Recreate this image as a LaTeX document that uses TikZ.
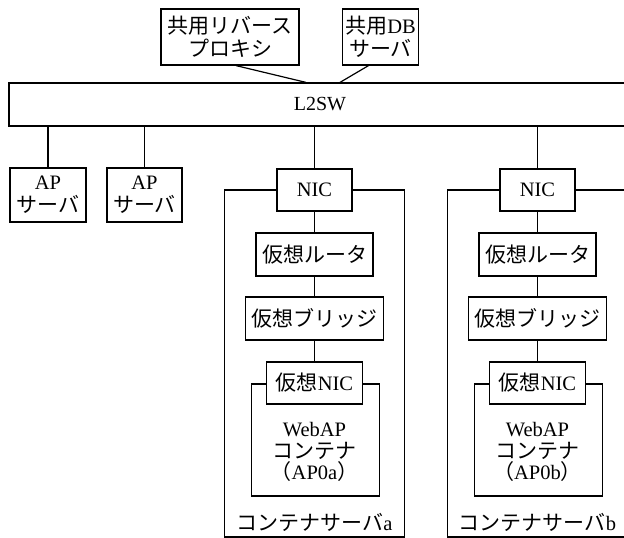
\documentclass[tikz,border=0pt]{standalone}
\usepackage{fontspec}
\setmainfont{Liberation Serif}
\newfontfamily\jpfont{Noto Sans CJK JP}
\newcommand\latn[1]{{\rmfamily\fontsize{20.5}{23}\selectfont #1}}
\tikzset{
  box/.style={draw, line width=1.2pt, fill=white, inner sep=0pt, align=center,
    font=\jpfont\fontsize{21}{23}\selectfont},
  frame/.style={draw, line width=1.2pt, inner sep=0pt},
  wire/.style={line width=1.2pt},
  txt/.style={inner sep=0pt, align=center, font=\jpfont\fontsize{21}{21.5}\selectfont}
}
\begin{document}
\begin{tikzpicture}[x=1pt,y=-1pt]
\useasboundingbox (0,0) rectangle (624,538);
\clip (0,0) rectangle (624,538);
\fill[white] (0,0) rectangle (624,538);
% top servers and switch
\node[box, minimum width=138pt, minimum height=56pt] (proxy) at (230,37) {共用リバース\\プロキシ};
\node[box, minimum width=76pt, minimum height=56pt] (db) at (380.5,37) {共用\latn{DB}\\サーバ};
\node[box, minimum width=622pt, minimum height=43pt, font=\rmfamily\fontsize{20}{22}\selectfont] (sw) at (320,104.5) {L2SW};
\draw[wire] ([xshift=6pt]proxy.south) -- ([xshift=-14pt]sw.north);
\draw[wire] ([xshift=-12pt]db.south) -- ([xshift=20pt]sw.north);
% AP servers
\node[box, minimum width=76pt, minimum height=54pt] (ap1) at (48,195) {\latn{AP}\\サーバ};
\node[box, minimum width=75pt, minimum height=54pt] (ap2) at (144.5,195) {\latn{AP}\\サーバ};
\draw[wire] (ap1.north) -- (ap1.north |- sw.south);
\draw[wire] (ap2.north) -- (ap2.north |- sw.south);
% container servers
\foreach \s/\c in {a/314.5, b/537.5} {
  \node[frame, minimum width=180pt, minimum height=347pt] (srv\s) at (\c,363.5) {};
  \node[box, minimum width=75pt, minimum height=42pt] (nic\s) at (\c,190) {\latn{NIC}};
  \node[box, minimum width=117pt, minimum height=43pt] (rt\s) at (\c,254.5) {仮想ルータ};
  \node[box, minimum width=138pt, minimum height=43pt] (br\s) at (\c,318.5) {仮想ブリッジ};
  \node[box, minimum width=128pt, minimum height=112pt] (ct\s) at (\c+1,440) {};
  \node[box, minimum width=96pt, minimum height=42pt] (vn\s) at (\c,383) {仮想\latn{NIC}};
  \node[txt] (wt\s) at (\c,452) {\latn{WebAP}\\コンテナ\\（\latn{AP0\s}）};
  \node[txt] (lb\s) at (\c,522) {コンテナサーバ\latn{\s}};
  \draw[wire] (nic\s.north) -- (nic\s.north |- sw.south);
  \draw[wire] (nic\s) -- (rt\s);
  \draw[wire] (rt\s) -- (br\s);
  \draw[wire] (br\s) -- (vn\s);
}
\end{tikzpicture}
\end{document}
